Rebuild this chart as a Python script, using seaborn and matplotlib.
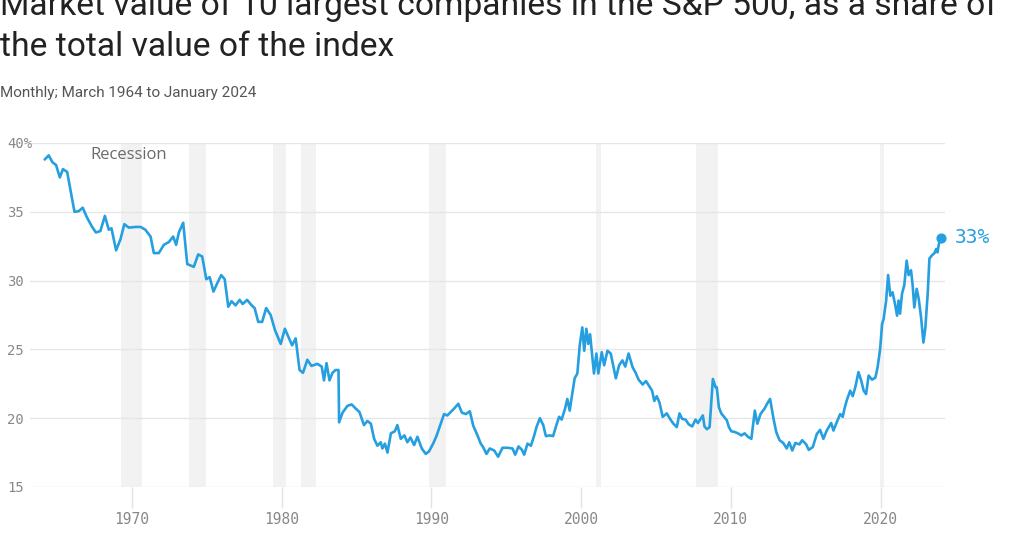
import pandas as pd
import matplotlib.pyplot as plt
import seaborn as sns

# --- DATA ---
years = [
    1964.18, 1964.45, 1964.70, 1964.94, 1965.19, 1965.40, 1965.68, 1965.90, 1966.17, 1966.46,
    1966.72, 1967.00, 1967.35, 1967.60, 1967.90, 1968.20, 1968.46, 1968.64, 1968.95, 1969.24,
    1969.50, 1969.80, 1970.25, 1970.58, 1970.90, 1971.25, 1971.47, 1971.80, 1972.14, 1972.47,
    1972.76, 1972.96, 1973.14, 1973.43, 1973.70,
    1974.14, 1974.43, 1974.70, 1974.97, 1975.20, 1975.45, 1975.70, 1975.97, 1976.20, 1976.44,
    1976.66, 1976.93, 1977.20, 1977.40, 1977.70, 1978.00, 1978.20, 1978.44, 1978.70, 1978.97,
    1979.27, 1979.56, 1979.94, 1980.22, 1980.50, 1980.70, 1980.94, 1981.20, 1981.43, 1981.72,
    1981.99, 1982.39, 1982.68, 1982.83, 1983.00, 1983.20, 1983.40, 1983.60, 1983.80, 1983.84,
    1984.07, 1984.40, 1984.68, 1984.95, 1985.20, 1985.50, 1985.73, 1985.96, 1986.18, 1986.40,
    1986.62, 1986.73, 1986.90, 1987.07, 1987.30, 1987.56, 1987.73, 1987.96, 1988.20, 1988.40,
    1988.60, 1988.85, 1989.07, 1989.36, 1989.63, 1989.85, 1990.12, 1990.34, 1990.63, 1990.85,
    1991.07, 1991.30, 1991.52, 1991.80, 1992.04, 1992.30, 1992.57, 1992.80, 1993.08, 1993.30,
    1993.46, 1993.68, 1993.90, 1994.20, 1994.46, 1994.75, 1995.09, 1995.42, 1995.60, 1995.82,
    1996.05, 1996.20, 1996.42, 1996.65, 1996.87, 1997.02, 1997.25, 1997.47, 1997.65, 1997.90,
    1998.13, 1998.35, 1998.53, 1998.70, 1998.93, 1999.08, 1999.24, 1999.37, 1999.57, 1999.75,
    1999.91, 2000.08, 2000.21, 2000.35, 2000.48, 2000.60, 2000.75, 2000.86, 2001.02, 2001.15,
    2001.38, 2001.54, 2001.76, 2001.98, 2002.14, 2002.32, 2002.54, 2002.76, 2002.95, 2003.17,
    2003.44, 2003.62, 2003.84, 2004.11, 2004.33, 2004.51, 2004.74, 2004.89, 2005.05, 2005.23,
    2005.45, 2005.72, 2005.94, 2006.16, 2006.39, 2006.57, 2006.75, 2006.97, 2007.19, 2007.42,
    2007.64, 2007.80, 2007.98, 2008.13, 2008.24, 2008.40, 2008.58, 2008.80, 2008.98, 2009.06,
    2009.20, 2009.36, 2009.58, 2009.73, 2009.87, 2010.03, 2010.25, 2010.47, 2010.70, 2010.92,
    2011.14, 2011.37, 2011.60, 2011.77, 2011.98, 2012.25, 2012.42, 2012.62, 2012.85, 2013.03,
    2013.25, 2013.50, 2013.73, 2013.90, 2014.10, 2014.31, 2014.58, 2014.76, 2015.03, 2015.20,
    2015.47, 2015.74, 2015.96, 2016.18, 2016.40, 2016.70, 2016.85, 2017.07, 2017.30, 2017.47,
    2017.59, 2017.74, 2017.97, 2018.14, 2018.32, 2018.52, 2018.70, 2018.87, 2019.03, 2019.20,
    2019.43, 2019.65, 2019.80, 2019.97, 2020.10, 2020.20, 2020.37, 2020.50, 2020.65, 2020.80,
    2020.96, 2021.10, 2021.20, 2021.30, 2021.43, 2021.58, 2021.74, 2021.87, 2022.03, 2022.14,
    2022.25, 2022.41, 2022.54, 2022.70, 2022.86, 2022.99, 2023.15, 2023.26, 2023.44, 2023.60,
    2023.71, 2023.80, 2023.88, 2024.00,
]
share = [
    38.8, 39.1, 38.6, 38.4, 37.5, 38.1, 37.9, 36.6, 35.0, 35.05,
    35.3, 34.6, 33.9, 33.5, 33.6, 34.7, 33.7, 33.8, 32.2, 33.0,
    34.1, 33.85, 33.9, 33.9, 33.7, 33.2, 32.0, 32.0, 32.6, 32.8,
    33.2, 32.6, 33.5, 34.2, 31.2,
    31.0, 31.9, 31.75, 30.1, 30.25, 29.2, 29.8, 30.4, 30.1, 28.1,
    28.5, 28.2, 28.6, 28.3, 28.6, 28.2, 28.0, 27.0, 27.0, 28.0,
    27.5, 26.4, 25.4, 26.5, 25.8, 25.3, 25.8, 23.5, 23.3, 24.25,
    23.8, 23.95, 23.75, 22.75, 24.0, 22.75, 23.3, 23.5, 23.5, 19.7,
    20.4, 20.9, 21.0, 20.7, 20.45, 19.5, 19.8, 19.6, 18.5, 18.0,
    18.25, 17.8, 18.15, 17.5, 18.9, 19.05, 19.5, 18.5, 18.75, 18.25,
    18.6, 18.05, 18.65, 17.8, 17.4, 17.6, 18.15, 18.7, 19.6, 20.3,
    20.2, 20.45, 20.7, 21.05, 20.4, 20.3, 20.5, 19.45, 18.75, 18.15,
    17.9, 17.4, 17.8, 17.65, 17.2, 17.85, 17.85, 17.8, 17.35, 17.95,
    17.7, 17.35, 18.15, 18.0, 18.75, 19.35, 20.0, 19.5, 18.7, 18.75,
    18.7, 19.5, 20.1, 19.9, 20.7, 21.4, 20.55, 21.5, 22.9, 23.25,
    25.3, 26.6, 24.9, 26.5, 25.4, 26.1, 24.45, 23.25, 24.7, 23.25,
    24.8, 23.85, 24.9, 24.7, 23.85, 22.9, 23.85, 24.2, 23.75, 24.7,
    23.7, 23.35, 22.8, 22.45, 22.7, 22.4, 22.0, 21.25, 21.6, 21.15,
    20.1, 20.35, 19.95, 19.6, 19.35, 20.35, 19.95, 19.9, 19.55, 19.4,
    19.9, 19.65, 19.95, 20.2, 19.4, 19.2, 19.35, 22.85, 22.25, 22.25,
    20.8, 20.35, 20.05, 19.85, 19.35, 19.05, 19.0, 18.9, 18.75, 18.9,
    18.65, 18.5, 20.55, 19.6, 20.3, 20.7, 21.05, 21.4, 19.95, 19.0,
    18.4, 18.2, 17.8, 18.25, 17.65, 18.2, 18.1, 18.4, 18.1, 17.7,
    17.9, 18.85, 19.15, 18.5, 19.1, 19.65, 19.1, 19.7, 20.3, 20.1,
    20.7, 21.3, 22.0, 21.6, 22.3, 23.35, 22.75, 22.0, 21.75, 23.1,
    22.8, 22.95, 23.7, 25.05, 26.85, 27.2, 28.55, 30.4, 28.9, 29.15,
    28.3, 27.45, 28.55, 27.6, 29.05, 29.65, 31.45, 30.4, 30.75, 29.65,
    28.05, 29.4, 28.7, 27.35, 25.5, 26.6, 29.15, 31.6, 31.85, 32.0,
    32.3, 32.05, 32.6, 33.1,
]

recession_start = [1969.3, 1973.8, 1979.4, 1981.3, 1989.85, 2001.0, 2007.7, 2019.95]
recession_end = [1970.7, 1974.95, 1980.3, 1982.3, 1990.95, 2001.35, 2009.15, 2020.2]

y_ticks = [15, 20, 25, 30, 35, 40]
y_tick_labels = ['15', '20', '25', '30', '35', '40%']
x_ticks = [1970, 1980, 1990, 2000, 2010, 2020]

TITLE_1 = "Market value of 10 largest companies in the S&P 500, as a share of"
TITLE_2 = "the total value of the index"
SUBTITLE = "Monthly; March 1964 to January 2024"

LINE_COLOR = '#269fe0'
MONO = ['DejaVu Sans Mono']

sns.set_theme(style="white")
plt.rcParams['font.family'] = ['Roboto', 'DejaVu Sans']

df = pd.DataFrame({'year': years, 'share': share})

fig = plt.figure(figsize=(10.24, 5.38), dpi=100)
ax = fig.add_axes([30 / 1024, 1 - 487 / 538, 915 / 1024, 344 / 538])

# recession shading
for start, end in zip(recession_start, recession_end):
    ax.axvspan(start, end, color='#f2f2f2', lw=0, zorder=0)

sns.lineplot(data=df, x='year', y='share', color=LINE_COLOR, linewidth=1.9, ax=ax, zorder=3)

# end point + label
last = df.iloc[-1]
ax.scatter([last['year']], [last['share']], s=40, color=LINE_COLOR, zorder=4, clip_on=False)
ax.annotate("33%", xy=(last['year'], last['share']), xytext=(10, 0), textcoords='offset points',
            va='center', ha='left', fontsize=14, color=LINE_COLOR, family=MONO)

ax.text(1967.26, 39.1, "Recession", fontsize=12, color='#6a6a6a', va='center', ha='left',
        family=['Open Sans', 'DejaVu Sans'])

ax.set_xlim(1963.2, 2024.3)
ax.set_ylim(15, 40)
ax.set_yticks(y_ticks)
ax.set_yticklabels(y_tick_labels)
ax.set_xticks(x_ticks)
ax.set_xlabel('')
ax.set_ylabel('')

ax.grid(axis='y', color='#e6e6e6', linewidth=1)
ax.grid(axis='x', visible=False)
for side in ['top', 'right', 'left', 'bottom']:
    ax.spines[side].set_visible(False)

ax.tick_params(axis='y', length=0, pad=16.5, labelsize=10, labelcolor='#888888')
ax.tick_params(axis='x', length=15, width=1, color='#e2e2e2', pad=3, labelsize=10.5,
               labelcolor='#888888', bottom=True)
for lbl in ax.get_yticklabels():
    lbl.set_horizontalalignment('left')
    lbl.set_family(MONO)
for lbl in ax.get_xticklabels():
    lbl.set_family(MONO)

# titles (first line is cut off at the top like the reference)
fig.text(0.0, 1 - 15 / 538, TITLE_1, fontsize=24.2, color='#222222', va='baseline', ha='left')
fig.text(0.0, 1 - 56 / 538, TITLE_2, fontsize=24.2, color='#222222', va='baseline', ha='left')
fig.text(0.0, 1 - 97 / 538, SUBTITLE, fontsize=11, color='#555555', va='baseline', ha='left')

fig.savefig('out.png', dpi=100)
